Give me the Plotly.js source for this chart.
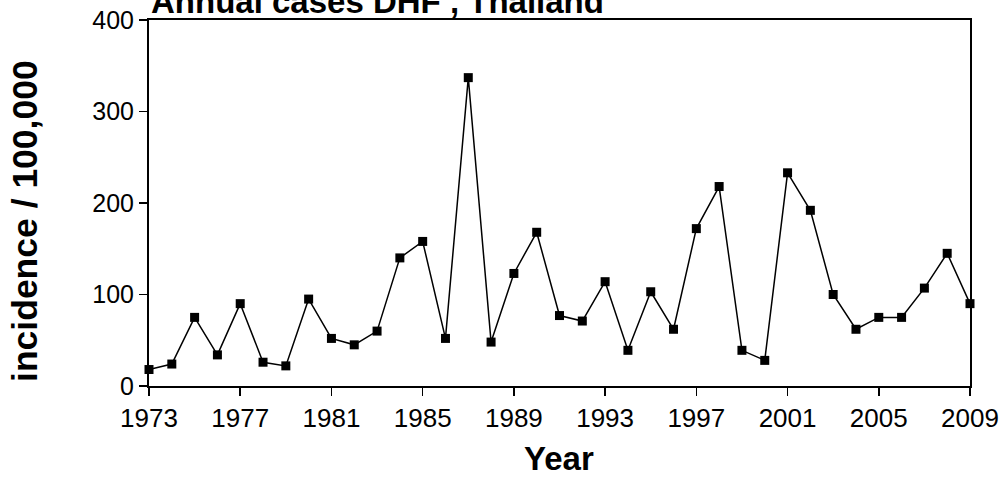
<!DOCTYPE html>
<html>
<head>
<meta charset="utf-8">
<script src="https://cdn.plot.ly/plotly-3.0.1.min.js"></script>
<style>html,body{margin:0;padding:0;background:#fff;}#chart{width:1005px;height:484px;}</style>
</head>
<body>
<div id="chart"></div>
<script>
const years = [1973,1974,1975,1976,1977,1978,1979,1980,1981,1982,1983,1984,1985,1986,1987,1988,1989,1990,1991,1992,1993,1994,1995,1996,1997,1998,1999,2000,2001,2002,2003,2004,2005,2006,2007,2008,2009];
const incidence = [18,24,75,34,90,26,22,95,52,45,60,140,158,52,337,48,123,168,77,71,114,39,103,62,172,218,39,28,233,192,100,62,75,75,107,145,90];
const xTicks = [1973,1977,1981,1985,1989,1993,1997,2001,2005,2009];
const yTicks = [0,100,200,300,400];
const chartTitle = 'Annual cases DHF , Thailand';
const xTitle = 'Year';
const yTitle = 'incidence / 100,000';

const font = 'Liberation Sans, Arial, sans-serif';
Plotly.newPlot('chart', [{
  x: years, y: incidence, type: 'scatter', mode: 'lines+markers',
  line: {color: '#000', width: 1.5},
  marker: {symbol: 'square', size: 9, color: '#000'},
  cliponaxis: false
}], {
  width: 1005, height: 484,
  margin: {l: 149, r: 35, t: 20, b: 98},
  paper_bgcolor: '#fff', plot_bgcolor: '#fff',
  showlegend: false,
  font: {family: font, color: '#000'},
  xaxis: {
    range: [1973, 2009], tickvals: xTicks, ticktext: xTicks.map(String),
    ticks: 'outside', ticklen: 8, tickwidth: 1.5, tickcolor: '#000',
    showline: true, linewidth: 2, linecolor: '#000', mirror: true,
    showgrid: false, zeroline: false,
    tickfont: {size: 26, family: font, color: '#000'}
  },
  yaxis: {
    range: [0, 400], tickvals: yTicks,
    ticks: 'outside', ticklen: 8, tickwidth: 1.5, tickcolor: '#000',
    showline: true, linewidth: 2, linecolor: '#000', mirror: true,
    showgrid: false, zeroline: false,
    tickfont: {size: 25, family: font, color: '#000'}
  },
  annotations: [{
    text: '<b>' + chartTitle + '</b>', xref: 'paper', yref: 'paper',
    x: 0, xanchor: 'left', y: 1, yanchor: 'bottom', yshift: -2,
    showarrow: false, font: {size: 33, family: font, color: '#000'}
  }, {
    text: '<b>' + yTitle + '</b>', xref: 'paper', yref: 'paper',
    x: -0.151, xanchor: 'center', y: 0.451, yanchor: 'middle', textangle: -90,
    showarrow: false, font: {size: 35.5, family: font, color: '#000'}
  }, {
    text: '<b>' + xTitle + '</b>', xref: 'paper', yref: 'paper',
    x: 0.4988, xanchor: 'center', y: -0.197, yanchor: 'middle',
    showarrow: false, font: {size: 33, family: font, color: '#000'}
  }]
}, {displayModeBar: false, staticPlot: true});
</script>
</body>
</html>
